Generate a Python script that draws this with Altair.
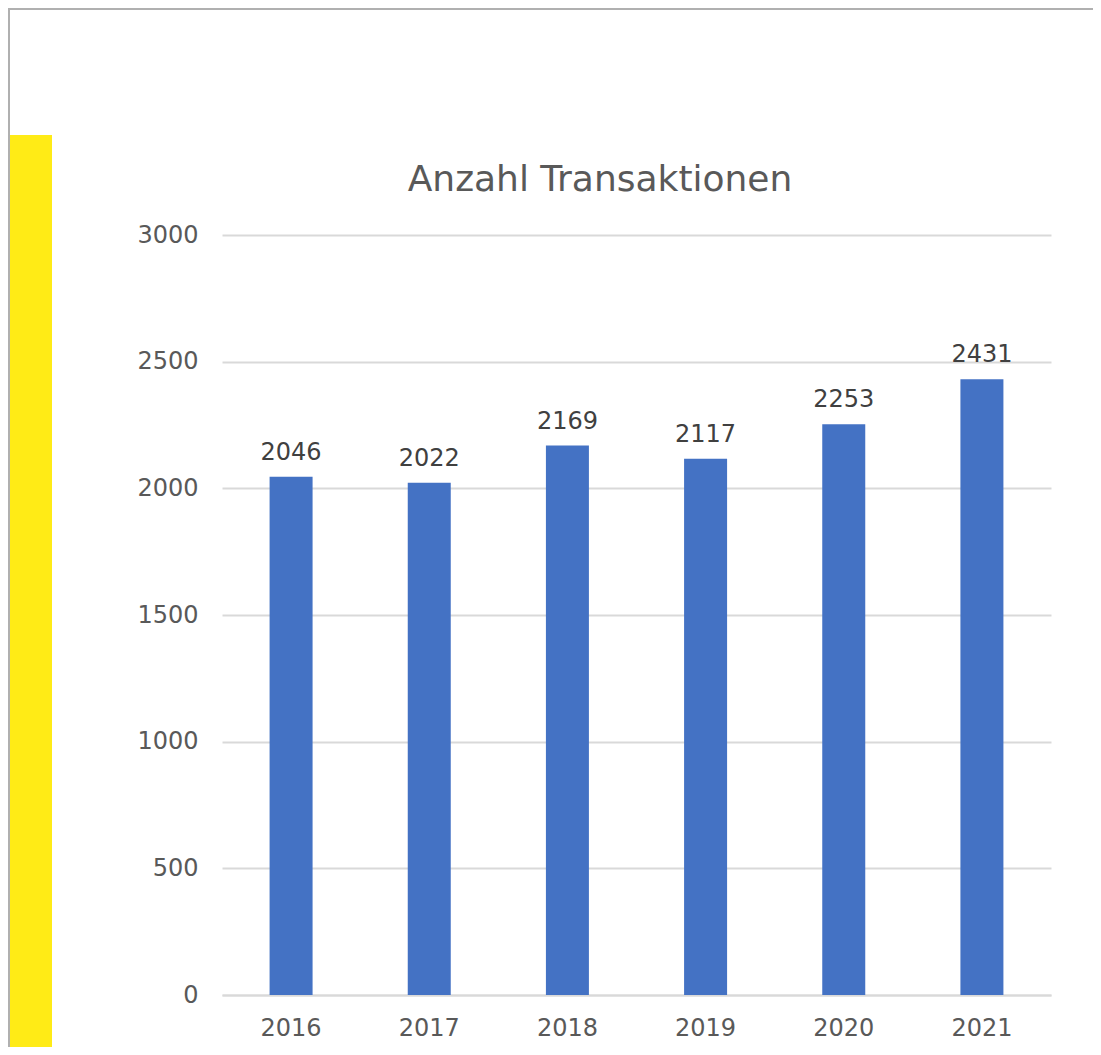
import altair as alt
import pandas as pd

years = ["2016", "2017", "2018", "2019", "2020", "2021"]
values = [2046, 2022, 2169, 2117, 2253, 2431]
y_ticks = [0, 500, 1000, 1500, 2000, 2500, 3000]
title_text = "Anzahl Transaktionen"

df = pd.DataFrame({"Jahr": years, "Anzahl": values})
one = alt.Data(values=[{"a": 1}])

FONT = "DejaVu Sans"
W, H = 829, 760

x_enc = alt.X("Jahr:N", sort=years, title=None,
              scale=alt.Scale(paddingInner=0, paddingOuter=0),
              axis=alt.Axis(labelAngle=0, labelFontSize=24, labelColor="#595959",
                            labelFont=FONT, labelPadding=21, ticks=False,
                            domainColor="#d9d9d9", domainWidth=2, grid=False))
y_enc = alt.Y("Anzahl:Q", title=None,
              scale=alt.Scale(domain=[0, 3000], nice=False),
              axis=alt.Axis(values=y_ticks, format="d", labelFontSize=24,
                            labelColor="#595959", labelFont=FONT, labelPadding=24,
                            ticks=False, domain=False,
                            gridColor="#d9d9d9", gridWidth=2))

bars = alt.Chart(df).mark_bar(size=43, color="#4472C4").encode(x=x_enc, y=y_enc)

labels = alt.Chart(df).mark_text(font=FONT, fontSize=24, color="#404040",
                                 baseline="alphabetic", dy=-17).encode(
    x=alt.X("Jahr:N", sort=years), y=alt.Y("Anzahl:Q"), text=alt.Text("Anzahl:Q", format="d"))

title = alt.Chart(one).mark_text(font=FONT, fontSize=36, color="#595959",
                                 baseline="alphabetic", align="center").encode(
    x=alt.value(378), y=alt.value(-44), text=alt.value(title_text))

yellow = alt.Chart(one).mark_rect(color="#FFEB16").encode(
    x=alt.value(-213), x2=alt.value(-170), y=alt.value(-100), y2=alt.value(830))

left_border = alt.Chart(one).mark_rule(color="#b0b0b0", strokeWidth=2).encode(
    x=alt.value(-213), y=alt.value(-228), y2=alt.value(830))

top_border = alt.Chart(one).mark_rule(color="#b0b0b0", strokeWidth=2).encode(
    y=alt.value(-226), x=alt.value(-214), x2=alt.value(900))

chart = alt.layer(yellow, left_border, top_border, bars, labels, title).properties(
    width=W, height=H,
    autosize=alt.AutoSizeParams(type="none"),
    padding={"left": 214, "top": 227, "right": 42, "bottom": 52},
).configure(background="white").configure_view(strokeWidth=0, stroke=None)

chart.save("out.html", embed_options={"renderer": "svg", "actions": False})
